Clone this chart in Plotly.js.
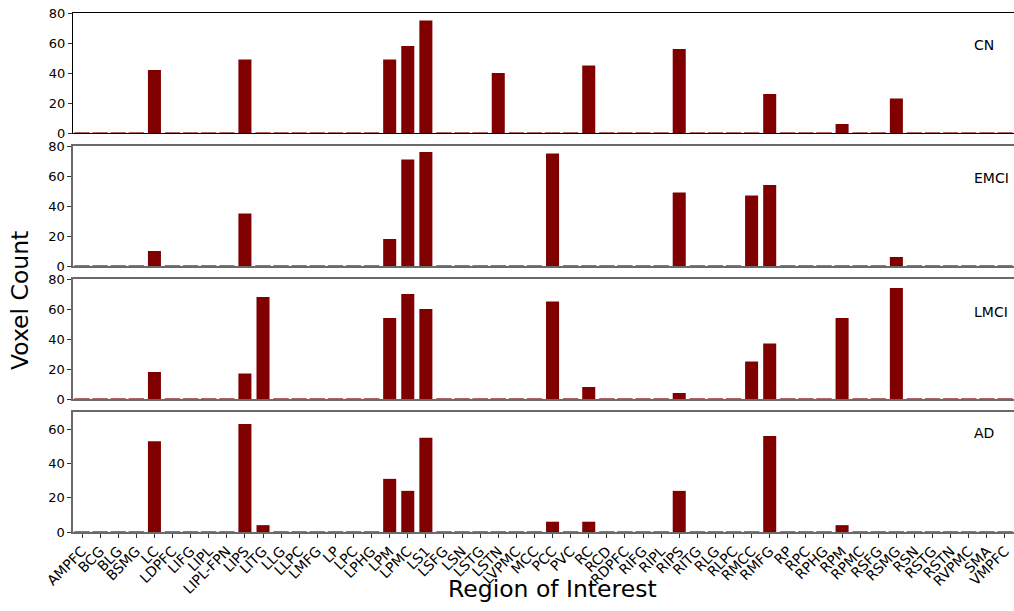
<!DOCTYPE html>
<html>
<head>
<meta charset="utf-8">
<script src="https://cdn.plot.ly/plotly-3.0.1.min.js"></script>
<style>html,body{margin:0;padding:0;background:#fff;}#chart{width:1014px;height:611px;}</style>
</head>
<body>
<div id="chart"></div>
<script>
const regions = ["AMPFC","BCG","BLG","BSMG","LC","LDPFC","LIFG","LIPL","LIPL-FPN","LIPS","LITG","LLG","LLPC","LMFG","LP","LPC","LPHG","LPM","LPMC","LS1","LSFG","LSN","LSTG","LSTN","LVPMC","MCC","PCC","PVC","RC","RCD","RDPFC","RIFG","RIPL","RIPS","RITG","RLG","RLPC","RMCC","RMFG","RP","RPC","RPHG","RPM","RPMC","RSFG","RSMG","RSN","RSTG","RSTN","RVPMC","SMA","VMPFC"];

const groups = ["CN","EMCI","LMCI","AD"];

// Voxel counts per region (same order as regions)
const cn   = [0,0,0,0,42,0,0,0,0,49,0,0,0,0,0,0,0,49,58,75,0,0,0,40,0,0,0,0,45,0,0,0,0,56,0,0,0,0,26,0,0,0,6,0,0,23,0,0,0,0,0,0];
const emci = [0,0,0,0,10,0,0,0,0,35,0,0,0,0,0,0,0,18,71,76,0,0,0,0,0,0,75,0,0,0,0,0,0,49,0,0,0,47,54,0,0,0,0,0,0,6,0,0,0,0,0,0];
const lmci = [0,0,0,0,18,0,0,0,0,17,68,0,0,0,0,0,0,54,70,60,0,0,0,0,0,0,65,0,8,0,0,0,0,4,0,0,0,25,37,0,0,0,54,0,0,74,0,0,0,0,0,0];
const ad   = [0,0,0,0,53,0,0,0,0,63,4,0,0,0,0,0,0,31,24,55,0,0,0,0,0,0,6,0,6,0,0,0,0,24,0,0,0,0,56,0,0,0,4,0,0,0,0,0,0,0,0,0];

const series = [cn, emci, lmci, ad];
const yMax = [80, 80, 80, 70];
const yTicks = [[0,20,40,60,80],[0,20,40,60,80],[0,20,40,60,80],[0,20,40,60]];

const barColor = "#800000";
const font = {family: "DejaVu Sans, sans-serif", color: "#000"};

const H = 519, bottomPx = 532;
const panelPx = [[13,133],[146,266],[279,399],[412,532]];
const labelYpx = [45,178,311.5,433];

const traces = [];
const layout = {
  width: 1014, height: 611,
  margin: {l: 73, r: 0, t: 13, b: 79, pad: 0},
  paper_bgcolor: "#fff", plot_bgcolor: "#fff",
  showlegend: false,
  bargap: 0.28,
  font: Object.assign({size: 13}, font),
  annotations: []
};

series.forEach((vals, i) => {
  const n = i + 1;
  const xa = "x" + (n === 1 ? "" : n), ya = "y" + (n === 1 ? "" : n);
  traces.push({
    type: "bar", x: regions, y: vals, xaxis: xa, yaxis: ya,
    marker: {color: barColor, line: {width: 0}},
    hoverinfo: "x+y"
  });
  const zx = [], zy = [];
  vals.forEach((v, k) => { if (v === 0) { zx.push(regions[k]); zy.push(v); } });
  traces.push({
    type: "scatter", mode: "markers", x: zx, y: zy, xaxis: xa, yaxis: ya,
    marker: {symbol: "line-ew-open", size: 11, color: barColor, line: {color: barColor, width: 1.2}},
    cliponaxis: false, hoverinfo: "skip"
  });
  const top = panelPx[i][0], bot = panelPx[i][1];
  const lc = i === 0 ? "#000" : "#6a6a6a";
  const lw = i === 0 ? 1.2 : 1.6;
  layout["xaxis" + (n === 1 ? "" : n)] = {
    anchor: ya, domain: [0, 1],
    type: "category", categoryorder: "array", categoryarray: regions,
    range: [-0.5, regions.length - 0.5],
    showline: true, mirror: true, linecolor: lc, linewidth: lw,
    showgrid: false, zeroline: false,
    ticks: n === 4 ? "outside" : "", ticklen: 4, tickcolor: "#333",
    showticklabels: n === 4, tickangle: -45,
    tickfont: Object.assign({size: 14}, font),
    matches: n === 1 ? undefined : "x"
  };
  layout["yaxis" + (n === 1 ? "" : n)] = {
    anchor: xa, domain: [(bottomPx - bot) / H, (bottomPx - top) / H],
    range: [0, yMax[i]], tickvals: yTicks[i], ticktext: yTicks[i].map(String),
    showline: true, linecolor: lc, linewidth: lw,
    showgrid: false, zeroline: false,
    ticks: "outside", ticklen: 4, tickcolor: "#333",
    tickfont: Object.assign({size: 13}, font)
  };
  layout.annotations.push({
    text: groups[i], xref: "paper", yref: "paper",
    x: (972 - 73) / 941, y: (bottomPx - labelYpx[i]) / H,
    xanchor: "left", yanchor: "middle", showarrow: false,
    font: Object.assign({size: 14}, font)
  });
});

layout.annotations.push({
  text: "Voxel Count", xref: "paper", yref: "paper",
  x: (20 - 73) / 941, y: (bottomPx - 301) / H, textangle: -90,
  xanchor: "center", yanchor: "middle", showarrow: false,
  font: Object.assign({size: 23.5}, font)
});
layout.annotations.push({
  text: "Region of Interest", xref: "paper", yref: "paper",
  x: (552 - 73) / 941, y: (bottomPx - 589) / H,
  xanchor: "center", yanchor: "middle", showarrow: false,
  font: Object.assign({size: 23.5}, font)
});

Plotly.newPlot("chart", traces, layout, {displayModeBar: false, staticPlot: true});
</script>
</body>
</html>
